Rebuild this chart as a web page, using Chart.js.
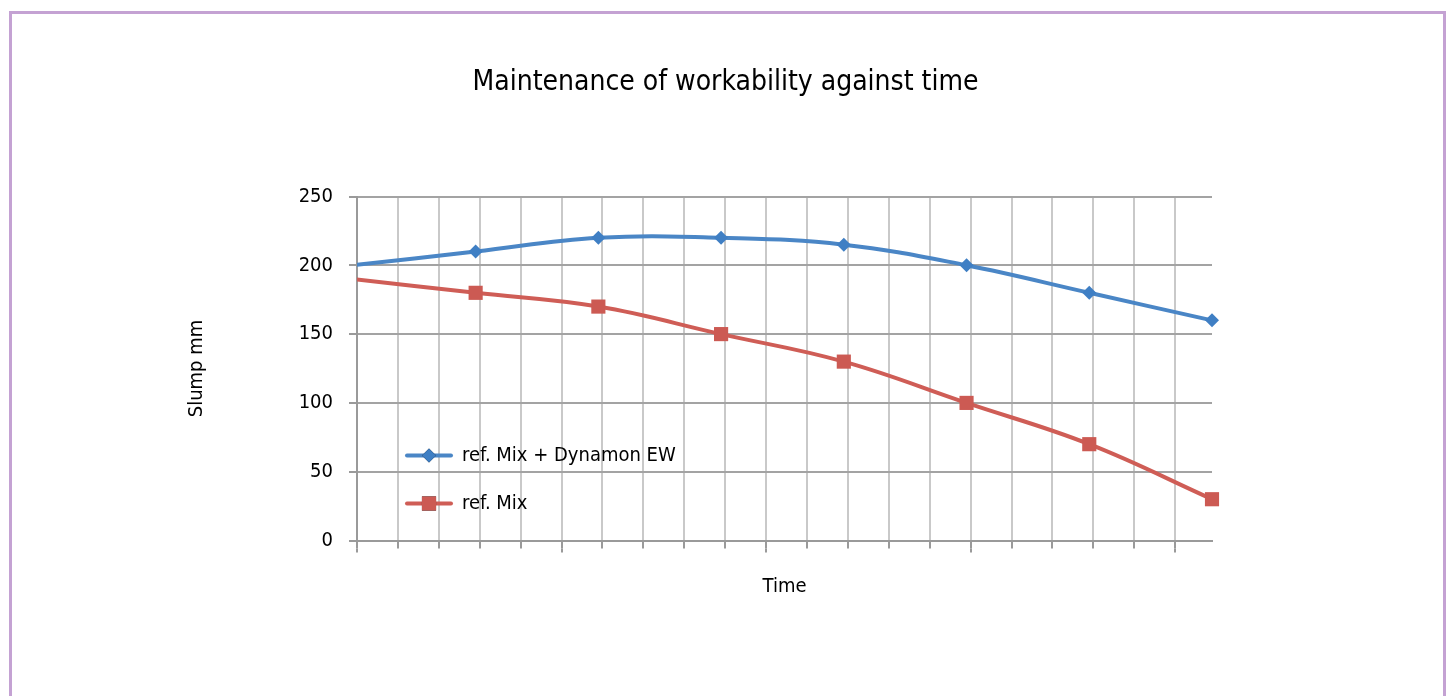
<!DOCTYPE html>
<html>
<head>
<meta charset="utf-8">
<script src="https://cdn.jsdelivr.net/npm/chart.js@4.4.1/dist/chart.umd.min.js"></script>
<style>
    body { margin: 0; background: #fff; overflow: hidden; }
    #marco { position: absolute; left: 9px; top: 11px; width: 1431px; height: 800px; border: 3px solid #c4a2d3; }
    #grafico { position: absolute; left: 0; top: 0; }
</style>
</head>
<body>
<div id="marco"></div>
<canvas id="grafico" width="1451" height="696"></canvas>
<script>
// Datos del grafico
const tiempos = [0, 30, 60, 90, 120, 150, 180, 210];
const slumpDynamon = [200, 210, 220, 220, 215, 200, 180, 160];
const slumpRef = [190, 180, 170, 150, 130, 100, 70, 30];
const nombresSeries = ["ref. Mix + Dynamon EW", "ref. Mix"];
const ticksX = [1, 11, 21, 31, 41, 51, 61, 71, 81, 91, 101, 111, 121, 131, 141, 151, 161, 171, 181, 191, 201];
const ticksXMayores = [1, 51, 101, 151, 201];

const fuente = "'Liberation Sans Narrow', 'Arial Narrow', 'DejaVu Sans Condensed', sans-serif";
const azul = "#4a86c6";
const rojo = "#cf5d56";
const xMin = 1;
const xMax = 210;

const puntos = (ys) => tiempos.map((t, i) => ({ x: t, y: ys[i] }));

// leyenda dentro del area del grafico
const leyendaInterna = {
    id: "leyendaInterna",
    afterDraw(chart) {
        const ctx = chart.ctx;
        const area = chart.chartArea;
        const x0 = area.left + 50;
        const filas = [area.top + 259, area.top + 307];
        chart.data.datasets.forEach((ds, i) => {
            const y = filas[i];
            ctx.save();
            ctx.strokeStyle = ds.borderColor;
            ctx.lineWidth = 4;
            ctx.lineCap = "round";
            ctx.beginPath();
            ctx.moveTo(x0, y);
            ctx.lineTo(x0 + 44, y);
            ctx.stroke();
            Chart.helpers.drawPoint(ctx, {
                pointStyle: ds.pointStyle,
                radius: ds.pointRadiusLeyenda,
                borderWidth: 0
            }, x0 + 22, y);
            ctx.fillStyle = ds.pointBackgroundColor;
            ctx.fill();
            ctx.fillStyle = "#000";
            ctx.font = "20px " + fuente;
            ctx.textBaseline = "middle";
            ctx.textAlign = "left";
            ctx.fillText(ds.label, x0 + 55, y);
            ctx.restore();
        });
    }
};

// ticks mayores del eje X un poco mas largos
const ticksLargos = {
    id: "ticksLargos",
    afterDraw(chart) {
        const ctx = chart.ctx;
        const escala = chart.scales.x;
        ctx.save();
        ctx.strokeStyle = "#9a9a9a";
        ctx.lineWidth = 2;
        ticksXMayores.forEach(v => {
            const px = Math.round(escala.getPixelForValue(v));
            ctx.beginPath();
            ctx.moveTo(px, chart.chartArea.bottom + 8);
            ctx.lineTo(px, chart.chartArea.bottom + 12);
            ctx.stroke();
        });
        ctx.restore();
    }
};

new Chart(document.getElementById("grafico"), {
    type: "line",
    data: {
        datasets: [{
            label: nombresSeries[0],
            data: puntos(slumpDynamon),
            borderColor: azul,
            backgroundColor: azul,
            pointBackgroundColor: "#3f7fc4",
            pointBorderWidth: 0,
            pointStyle: "rectRot",
            pointRadius: c => (c.raw && c.raw.x < xMin ? 0 : 7),
            pointRadiusLeyenda: 7,
            borderWidth: 4,
            tension: 0.4,
            clip: { left: 0, top: false, right: false, bottom: false }
        }, {
            label: nombresSeries[1],
            data: puntos(slumpRef),
            borderColor: rojo,
            backgroundColor: rojo,
            pointBackgroundColor: "#cc5a53",
            pointBorderWidth: 0,
            pointStyle: "rect",
            pointRadius: c => (c.raw && c.raw.x < xMin ? 0 : 10),
            pointRadiusLeyenda: 10,
            borderWidth: 4,
            tension: 0.4,
            clip: { left: 0, top: false, right: false, bottom: false }
        }]
    },
    options: {
        responsive: false,
        devicePixelRatio: 1,
        animation: false,
        layout: { padding: { left: 0, right: 0, top: 0, bottom: 97 } },
        plugins: {
            legend: { display: false },
            tooltip: { enabled: false },
            title: {
                display: true,
                text: "Maintenance of workability against time",
                color: "#000",
                font: { family: fuente, size: 28, weight: "normal", lineHeight: 1.2 },
                padding: { top: 66, bottom: 96.9 }
            }
        },
        scales: {
            x: {
                type: "linear",
                min: xMin,
                max: xMax,
                afterBuildTicks: s => { s.ticks = ticksX.map(v => ({ value: v })); },
                afterFit: s => { s.height = 58.5; },
                ticks: { display: false },
                grid: {
                    color: "#c9c9c9",
                    lineWidth: 2,
                    tickColor: "#9a9a9a",
                    tickLength: 8
                },
                border: { display: true, color: "#9a9a9a", width: 2 },
                title: {
                    display: true,
                    text: "Time",
                    color: "#000",
                    font: { family: fuente, size: 20, lineHeight: 1.2 },
                    padding: 0
                }
            },
            y: {
                min: 0,
                max: 250,
                afterFit: s => { s.width = 357; },
                ticks: {
                    stepSize: 50,
                    color: "#000",
                    padding: 16,
                    font: { family: fuente, size: 20 }
                },
                grid: {
                    color: "#a3a3a3",
                    lineWidth: 2,
                    tickColor: "#9a9a9a",
                    tickLength: 8
                },
                border: { display: true, color: "#9a9a9a", width: 2 },
                title: {
                    display: true,
                    text: "Slump mm",
                    color: "#000",
                    font: { family: fuente, size: 20, lineHeight: 1.2 },
                    padding: { top: 185, bottom: 0 }
                }
            },
            // eje vacio a la derecha solo para reservar margen
            margenDer: {
                position: "right",
                display: true,
                min: 0,
                max: 250,
                afterFit: s => { s.width = 239; },
                ticks: { display: false },
                grid: { display: false, drawTicks: false },
                border: { display: false }
            }
        }
    },
    plugins: [leyendaInterna, ticksLargos]
});
</script>
</body>
</html>
